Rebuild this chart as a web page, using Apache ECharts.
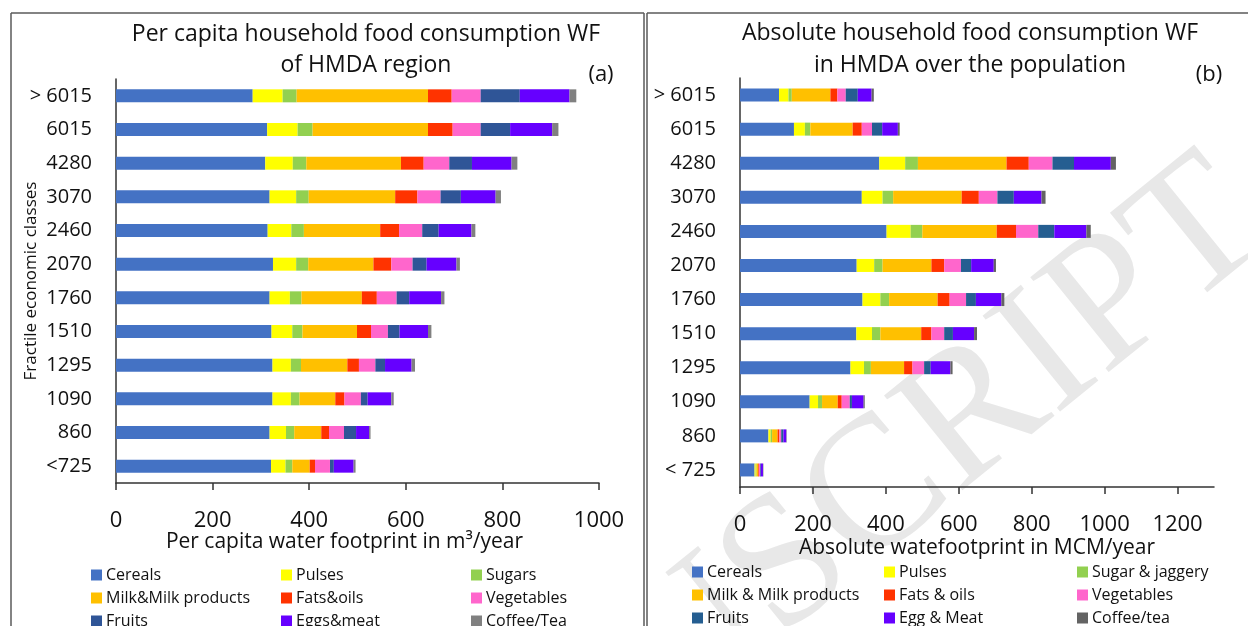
<!DOCTYPE html>
<html>
<head>
<meta charset="utf-8">
<script src="https://cdn.jsdelivr.net/npm/echarts@6/dist/echarts.min.js"></script>
<style>
  html, body { margin: 0; padding: 0; background: #fff; }
  #left { position: absolute; left: 0; top: 0; width: 645px; height: 626px; }
  #right { position: absolute; left: 645px; top: 0; width: 603px; height: 626px; }
</style>
</head>
<body>
<div id="left"></div>
<div id="right"></div>
<script>
// fractile economic classes, top to bottom
const classesA = ['> 6015', '6015', '4280', '3070', '2460', '2070', '1760', '1510', '1295', '1090', '860', '<725'];
const classesB = ['> 6015', '6015', '4280', '3070', '2460', '2070', '1760', '1510', '1295', '1090', '860', '< 725'];

// (a) per capita WF, m3/year
const cerealsA = [283, 313, 309, 318, 314, 325, 318, 322, 324, 324, 318, 321];
const pulsesA  = [62, 63, 57, 55, 49, 48, 42, 43, 38, 38, 34, 30];
const sugarsA  = [29, 31, 28, 26, 26, 25, 24, 21, 21, 18, 17, 14];
const milkA    = [272, 239, 196, 179, 158, 135, 125, 113, 96, 74, 56, 36];
const fatsA    = [49, 51, 47, 46, 39, 37, 31, 29, 24, 19, 16, 11];
const vegA     = [60, 58, 53, 48, 48, 44, 41, 35, 34, 34, 31, 31];
const fruitsA  = [81, 61, 47, 42, 34, 29, 26, 24, 20, 14, 25, 8];
const eggsA    = [103, 87, 82, 72, 68, 62, 66, 59, 55, 49, 27, 41];
const coffeeA  = [14, 13, 12, 11, 8, 7, 7, 7, 7, 5, 3, 4];

// (b) absolute WF, MCM/year
const cerealsB = [107, 148, 382, 334, 402, 320, 336, 319, 303, 191, 78, 40];
const pulsesB  = [26, 30, 71, 57, 66, 48, 49, 43, 37, 23, 6, 3];
const sugarsB  = [9, 15, 35, 29, 32, 23, 24, 23, 19, 11, 4, 2];
const milkB    = [106, 116, 243, 188, 204, 134, 133, 112, 91, 43, 15, 5];
const fatsB    = [19, 25, 61, 47, 53, 35, 33, 28, 23, 11, 5, 2];
const vegB     = [23, 28, 65, 51, 61, 46, 45, 35, 32, 22, 5, 3];
const fruitsB  = [33, 28, 59, 45, 44, 28, 27, 24, 18, 6, 6, 2];
const eggsB    = [38, 43, 101, 76, 88, 62, 70, 58, 54, 32, 8, 6];
const coffeeB  = [6, 5, 14, 11, 12, 6, 8, 8, 6, 3, 1, 1];

const xTicksA = [0, 200, 400, 600, 800, 1000];
const xTicksB = [0, 200, 400, 600, 800, 1000, 1200];

const namesA = ['Cereals', 'Pulses', 'Sugars', 'Milk&Milk products', 'Fats&oils', 'Vegetables', 'Fruits', 'Eggs&meat', 'Coffee/Tea'];
const namesB = ['Cereals', 'Pulses', 'Sugar & jaggery', 'Milk & Milk products', 'Fats & oils', 'Vegetables', 'Fruits', 'Egg & Meat', 'Coffee/tea'];
const colorsA = ['#4472C4', '#FFFF00', '#92D050', '#FFC000', '#FF3300', '#FF66CC', '#2F5597', '#6600FF', '#808080'];
const colorsB = ['#4472C4', '#FFFF00', '#92D050', '#FFC000', '#FF3300', '#FF66CC', '#255E91', '#6600FF', '#636363'];

const FONT = 'Open Sans';
const INK = '#111';

function makeSeries(names, colors, arrays) {
  return names.map((n, i) => ({
    type: 'bar',
    name: n,
    stack: 'wf',
    data: arrays[i],
    barWidth: 13,
    itemStyle: { color: colors[i] },
    emphasis: { disabled: true }
  }));
}

// three legend columns, each listing one item per row
function makeLegends(names, xs, top) {
  return xs.map((x, c) => ({
    orient: 'vertical',
    left: x,
    top: top,
    height: 70,
    padding: 0,
    itemWidth: 11,
    itemHeight: 11,
    itemGap: 7,
    icon: 'rect',
    selectedMode: false,
    data: [names[c], names[c + 3], names[c + 6]],
    textStyle: { fontFamily: FONT, fontSize: 16, color: INK, lineHeight: 15, padding: [0, 0, 0, -1] }
  }));
}

function frameLine(x1, y1, x2, y2) {
  return { type: 'line', shape: { x1, y1, x2, y2 }, style: { stroke: '#5a5a5a', lineWidth: 1.5 }, silent: true };
}

function titleText(text, x, y, size) {
  return { type: 'text', x: x, y: y, style: { text: text, font: size + 'px "' + FONT + '"', fill: INK, textAlign: 'center', textVerticalAlign: 'middle' }, silent: true };
}

function xAxisOf(ticks, max, name, gap, pad) {
  return {
    type: 'value',
    min: 0,
    max: max,
    interval: 200,
    name: name,
    nameLocation: 'middle',
    nameGap: gap,
    nameMoveOverlap: false,
    nameTextStyle: { fontFamily: FONT, fontSize: 21, color: INK, padding: pad },
    axisLine: { show: true, lineStyle: { color: '#333', width: 1.5 } },
    axisTick: { show: true, length: 7, lineStyle: { color: '#333', width: 1.5 } },
    splitLine: { show: false },
    axisLabel: {
      fontFamily: FONT, fontSize: 22, color: INK, margin: 27, showMaxLabel: max === ticks[ticks.length - 1],
      formatter: v => (ticks.indexOf(v) >= 0 ? String(v) : '')
    }
  };
}

function yAxisOf(cats, name) {
  return {
    type: 'category',
    inverse: true,
    data: cats,
    name: name,
    nameLocation: 'middle',
    nameGap: 76,
    nameMoveOverlap: false,
    nameTextStyle: { fontFamily: FONT, fontSize: 17, color: INK },
    axisLine: { show: true, lineStyle: { color: '#333', width: 1.5 } },
    axisTick: { show: false },
    axisLabel: { fontFamily: FONT, fontSize: 20, color: INK, margin: 24 }
  };
}

// ---- chart (a)
const chartA = echarts.init(document.getElementById('left'));
chartA.setOption({
  animation: false,
  grid: { left: 116, top: 79, width: 483, height: 404, containLabel: false, outerBoundsMode: 'none' },
  xAxis: xAxisOf(xTicksA, 1000, 'Per capita water footprint in m\u00b3/year', 49, [0, 26, 0, 0]),
  yAxis: yAxisOf(classesA, 'Fractile economic classes'),
  legend: makeLegends(namesA, [91, 281, 471], 567),
  series: makeSeries(namesA, colorsA,
    [cerealsA, pulsesA, sugarsA, milkA, fatsA, vegA, fruitsA, eggsA, coffeeA]),
  graphic: [
    frameLine(11, 13, 11, 626),
    frameLine(11, 13, 644, 13),
    frameLine(644, 13, 644, 626),
    titleText('Per capita household food consumption WF', 366, 34, 23),
    titleText('of HMDA region', 366, 65, 23),
    titleText('(a)', 601, 75, 22)
  ]
});

// ---- chart (b)
const chartB = echarts.init(document.getElementById('right'));
chartB.setOption({
  animation: false,
  grid: { left: 95, top: 78, width: 474, height: 409, containLabel: false, outerBoundsMode: 'none' },
  xAxis: xAxisOf(xTicksB, 1300, 'Absolute watefootprint in MCM/year', 51, [0, 0, 0, 0]),
  yAxis: yAxisOf(classesB, ''),
  legend: makeLegends(namesB, [47, 239, 432], 564),
  series: makeSeries(namesB, colorsB,
    [cerealsB, pulsesB, sugarsB, milkB, fatsB, vegB, fruitsB, eggsB, coffeeB]),
  graphic: [
    {
      type: 'text', x: 598, y: 200, rotation: 0.68, z: -10, silent: true,
      style: { text: 'MANUSCRIPT', font: '188px "Liberation Serif"', fill: '#e8e8e8', textAlign: 'right', textVerticalAlign: 'middle' }
    },
    frameLine(2, 13, 2, 626),
    frameLine(2, 13, 603, 13),
    titleText('Absolute household food consumption WF', 325, 33, 23),
    titleText('in HMDA over the population', 325, 65, 23),
    titleText('(b)', 564, 75, 22)
  ]
});
</script>
</body>
</html>
